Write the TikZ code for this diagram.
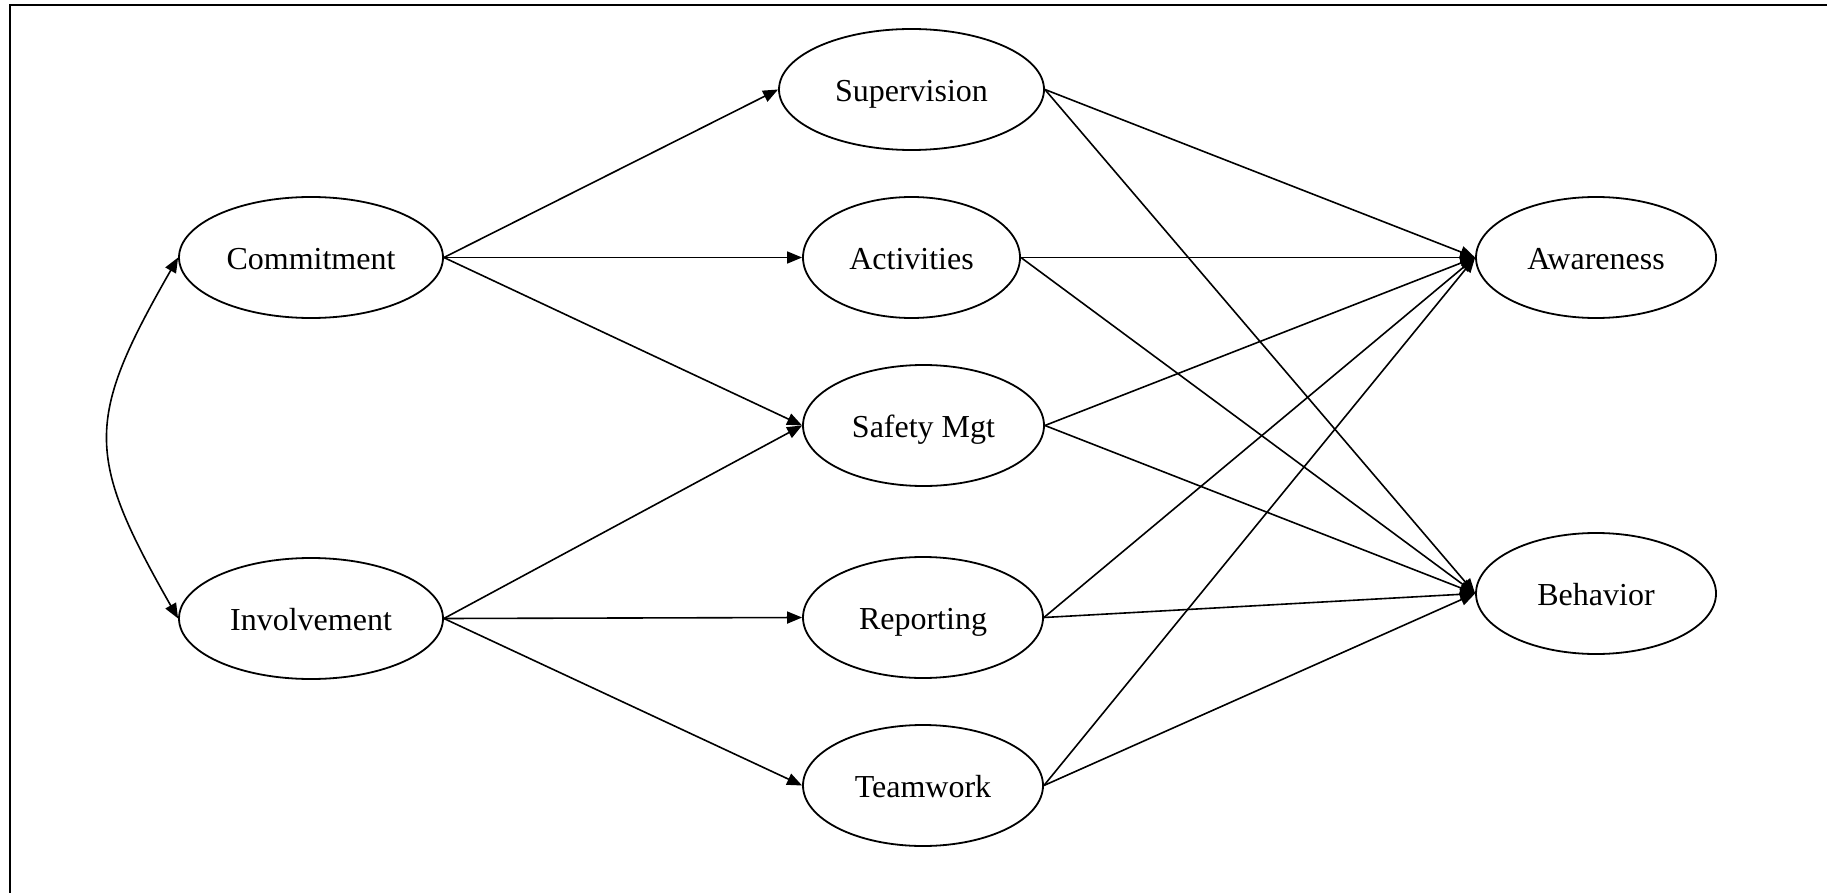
\documentclass[tikz,border=0pt]{standalone}
\usepackage{fontspec}
\setmainfont{Liberation Serif}
\usetikzlibrary{shapes.geometric,arrows.meta}
\newcommand{\lowtext}[1]{\raisebox{-12pt}[0pt][0pt]{#1}}
\begin{document}
\begin{tikzpicture}[x=1pt,y=-1pt,
  var/.style={ellipse,draw,line width=1.8pt,inner sep=0pt,minimum height=121pt,
    font=\fontsize{32}{38}\selectfont},
  link/.style={line width=1.6pt,-{Triangle[length=15pt,width=12pt]}},
  frameline/.style={line width=2.2pt}]
\useasboundingbox (0,0) rectangle (1827,893);
\draw[frameline] (10,893) -- (10,5) -- (1827,5);
\node[var,minimum width=264pt] (com) at (311,257.5) {\lowtext{Commitment}};
\node[var,minimum width=264pt] (inv) at (311,618.5) {\lowtext{Involvement}};
\node[var,minimum width=265pt] (sup) at (911.5,89.5) {\lowtext{Supervision}};
\node[var,minimum width=217pt] (act) at (911.5,257.5) {\lowtext{Activities}};
\node[var,minimum width=241pt] (saf) at (923.5,425.5) {\lowtext{Safety Mgt}};
\node[var,minimum width=240pt] (rep) at (923,617.5) {\lowtext{Reporting}};
\node[var,minimum width=240pt] (tea) at (923,785.5) {\lowtext{Teamwork}};
\node[var,minimum width=240pt] (awa) at (1596,257.5) {\lowtext{Awareness}};
\node[var,minimum width=240pt] (beh) at (1596,593.5) {\lowtext{Behavior}};
\draw[link] (com.east) -- (sup.west);
\draw[link] (com.east) -- (act.west);
\draw[link] (com.east) -- (saf.west);
\draw[link] (inv.east) -- (saf.west);
\draw[link] (inv.east) -- (rep.west);
\draw[link] (inv.east) -- (tea.west);
\foreach \s in {sup,act,saf,rep,tea}{
  \draw[link] (\s.east) -- (awa.west);
  \draw[link] (\s.east) -- (beh.west);
}
\draw[line width=1.6pt,{Triangle[length=15pt,width=12pt]}-{Triangle[length=15pt,width=12pt]}]
  (com.west) .. controls (85,420) and (85,455) .. (inv.west);
\end{tikzpicture}
\end{document}
